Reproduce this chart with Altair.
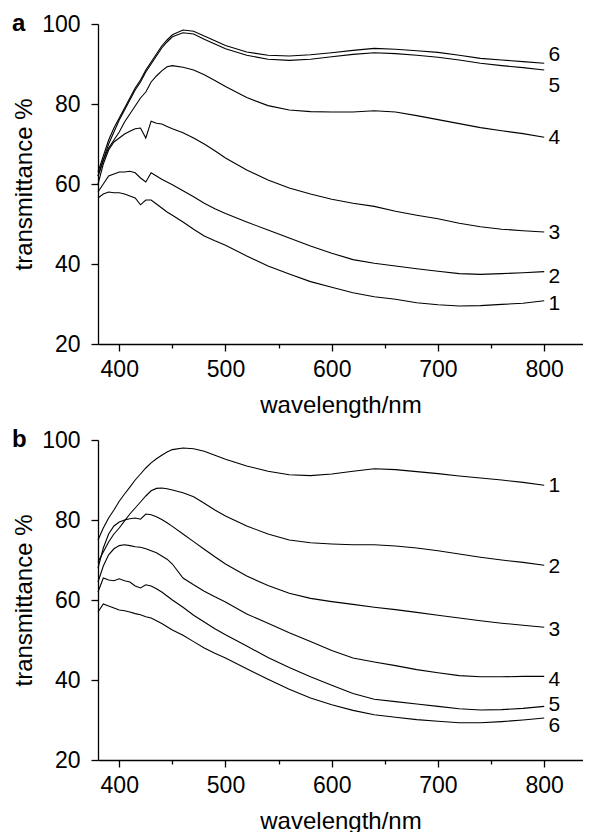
import altair as alt
import pandas as pd

FONT = "Liberation Sans"

wavelength = [380, 385, 390, 395, 400, 405, 410, 415, 420, 425, 430, 435, 440, 445, 450,
              460, 470, 480, 490, 500, 520, 540, 560, 580, 600, 620, 640, 660, 680, 700,
              720, 740, 760, 780, 800]

# panel a
a1 = [56.5, 57.5, 58.0, 57.8, 57.8, 57.5, 57.0, 56.5, 54.8, 56.0, 56.0, 55.0, 54.0, 53.0, 52.2,
      50.5, 48.7, 47.0, 45.8, 44.7, 42.0, 39.5, 37.5, 35.6, 34.2, 32.8, 31.8, 31.2, 30.3, 29.8,
      29.5, 29.6, 29.9, 30.2, 30.8]
a2 = [58.0, 60.0, 62.0, 62.5, 63.0, 63.0, 63.2, 62.8, 61.5, 60.5, 62.8, 62.0, 61.2, 60.5, 59.8,
      58.3, 56.8, 55.2, 53.8, 52.6, 50.5, 48.5, 46.5, 44.5, 42.7, 41.1, 40.2, 39.5, 38.8, 38.2,
      37.6, 37.4, 37.6, 37.8, 38.1]
a3 = [60.0, 65.0, 68.5, 70.5, 71.5, 72.5, 73.2, 73.8, 74.0, 71.5, 75.7, 75.2, 75.0, 74.4, 73.8,
      72.8, 71.5, 70.0, 68.3, 66.5, 63.5, 61.0, 59.0, 57.5, 56.2, 55.2, 54.4, 53.2, 52.2, 51.3,
      50.2, 49.3, 48.7, 48.3, 48.0]
a4 = [62.0, 66.0, 69.0, 71.0, 73.0, 75.5, 77.5, 79.5, 81.5, 83.0, 85.5, 87.0, 88.3, 89.3, 89.6,
      89.2, 88.5, 87.3, 85.9, 84.4, 81.6, 79.6, 78.5, 78.1, 78.0, 78.0, 78.3, 78.0, 77.1, 76.1,
      75.1, 74.1, 73.3, 72.6, 71.7]
a5 = [62.0, 66.0, 70.0, 73.0, 76.0, 78.5, 81.0, 83.5, 85.5, 88.0, 90.0, 92.0, 94.0, 95.5, 96.8,
      97.8, 97.5, 96.2, 95.0, 93.8, 92.2, 91.2, 90.9, 91.2, 91.8, 92.4, 92.8, 92.6, 92.2, 91.7,
      91.0, 90.2, 89.6, 89.1, 88.5]
a6 = [63.0, 67.0, 71.0, 74.0, 76.5, 79.0, 81.5, 84.0, 86.0, 88.5, 90.5, 92.5, 94.5, 96.0, 97.3,
      98.5, 98.2, 97.0, 95.8, 94.6, 93.0, 92.2, 92.0, 92.3, 92.8, 93.4, 93.9, 93.7, 93.3, 92.9,
      92.2, 91.4, 91.0, 90.6, 90.2]

# panel b
b1 = [75.0, 78.0, 80.5, 82.5, 84.7, 86.5, 88.2, 90.0, 91.5, 93.0, 94.3, 95.3, 96.2, 97.0, 97.6,
      98.0, 97.8, 97.2, 96.2, 95.2, 93.5, 92.2, 91.3, 91.1, 91.5, 92.2, 92.8, 92.6, 92.1, 91.6,
      91.0, 90.5, 90.0, 89.4, 88.7]
b2 = [69.5, 72.0, 74.5, 76.5, 78.0, 79.8, 81.5, 83.0, 84.5, 86.0, 87.3, 87.9, 88.0, 87.8, 87.5,
      86.8, 85.8, 84.2, 82.5, 81.0, 78.5, 76.5, 75.0, 74.3, 74.0, 73.8, 73.8, 73.5, 73.0, 72.3,
      71.5, 70.7, 70.0, 69.4, 68.7]
b3 = [68.0, 73.0, 76.5, 78.5, 79.5, 80.0, 80.3, 80.5, 80.2, 81.5, 81.3, 80.8, 80.1, 79.3, 78.4,
      76.5, 74.6, 72.7, 70.8, 69.0, 66.0, 63.6, 61.7, 60.4, 59.6, 58.9, 58.2, 57.6, 56.9, 56.2,
      55.5, 54.8, 54.2, 53.7, 53.2]
b4 = [64.5, 68.5, 71.3, 72.8, 73.6, 73.8, 73.6, 73.3, 73.2, 72.8, 72.3, 71.8, 71.0, 70.2, 69.0,
      65.5, 63.8, 62.2, 60.8, 59.5, 56.5, 54.2, 51.8, 49.6, 47.4, 45.5, 44.5, 43.6, 42.6, 41.8,
      41.1, 40.8, 40.8, 40.9, 40.9]
b5 = [62.0, 65.5, 65.0, 64.8, 65.3, 64.8, 64.5, 63.5, 63.0, 63.8, 63.5, 62.8, 62.0, 61.0, 60.0,
      58.2, 56.2, 54.5, 52.8, 51.3, 48.5, 45.6, 43.1, 40.8, 38.7, 36.6, 35.2, 34.6, 34.0, 33.4,
      32.8, 32.5, 32.6, 32.9, 33.4]
b6 = [57.0, 59.0, 58.5, 58.0, 57.5, 57.3, 57.0, 56.6, 56.3, 55.8, 55.5, 54.8, 54.1, 53.3, 52.5,
      51.2, 49.6, 48.0, 46.7, 45.5, 42.8, 40.2, 37.7, 35.5, 33.8, 32.4, 31.3, 30.7, 30.1, 29.7,
      29.3, 29.3, 29.6, 30.0, 30.5]

curve_names = ["1", "2", "3", "4", "5", "6"]
a_label_values = [30.0, 36.7, 47.7, 71.5, 84.5, 92.25]
b_label_values = [88.5, 68.25, 52.6, 40.1, 33.7, 28.4]
label_wavelength = 804

x_tick_values = [400, 450, 500, 550, 600, 650, 700, 750, 800]
y_tick_values = [20, 30, 40, 50, 60, 70, 80, 90, 100]


def panel(curves, label_values, letter):
    rows = []
    for name, vals in zip(curve_names, curves):
        for w, v in zip(wavelength, vals):
            rows.append({"curve": name, "wl": w, "T": v})
    df = pd.DataFrame(rows)
    xs = alt.Scale(domain=[380, 836.5], nice=False, zero=False)
    ys = alt.Scale(domain=[20, 100], nice=False, zero=False)
    xaxis = alt.Axis(
        values=x_tick_values,
        labelExpr="datum.value % 100 == 0 ? datum.label : ''",
        tickSize={"condition": {"test": "datum.value % 100 == 0", "value": 7}, "value": 4},
        title="wavelength/nm",
        labelFlush=False,
        labelOverlap=False,
        labelPadding=7,
        titlePadding=12,
    )
    yaxis = alt.Axis(
        values=y_tick_values,
        labelExpr="datum.value % 20 == 0 ? datum.label : ''",
        tickSize={"condition": {"test": "datum.value % 20 == 0", "value": 7}, "value": 4},
        title="transmittance %",
        labelOverlap=False,
        labelPadding=11,
        titlePadding=5,
    )
    lines = alt.Chart(df).mark_line(color="black", strokeWidth=1.1).encode(
        x=alt.X("wl:Q", scale=xs, axis=xaxis),
        y=alt.Y("T:Q", scale=ys, axis=yaxis),
        detail="curve:N",
    )
    lab_df = pd.DataFrame({"curve": curve_names,
                           "wl": [label_wavelength] * len(curve_names),
                           "T": label_values})
    labels = alt.Chart(lab_df).mark_text(
        align="left", baseline="middle", fontSize=21, font=FONT, color="black"
    ).encode(x="wl:Q", y="T:Q", text="curve:N")
    let_df = pd.DataFrame({"t": [letter]})
    let = alt.Chart(let_df).mark_text(
        align="left", baseline="middle", fontSize=24, fontWeight="bold", font=FONT, color="black"
    ).encode(x=alt.value(-86), y=alt.value(0), text="t:N")
    return alt.layer(lines, labels, let).properties(width=485, height=320)


pa = panel([a1, a2, a3, a4, a5, a6], a_label_values, "a")
pb = panel([b1, b2, b3, b4, b5, b6], b_label_values, "b")

chart = alt.vconcat(pa, pb, spacing=11).properties(
    padding={"left": 4, "top": 4, "right": 0, "bottom": 0}
).configure_view(stroke=None).configure_axis(
    labelFont=FONT, titleFont=FONT, labelFontSize=23, titleFontSize=24,
    titleFontWeight="normal", labelColor="black", titleColor="black",
    domainColor="black", tickColor="black", domainWidth=1.3, tickWidth=1.3,
    grid=False,
)

chart.save("out.html", embed_options={"renderer": "svg", "actions": False})
